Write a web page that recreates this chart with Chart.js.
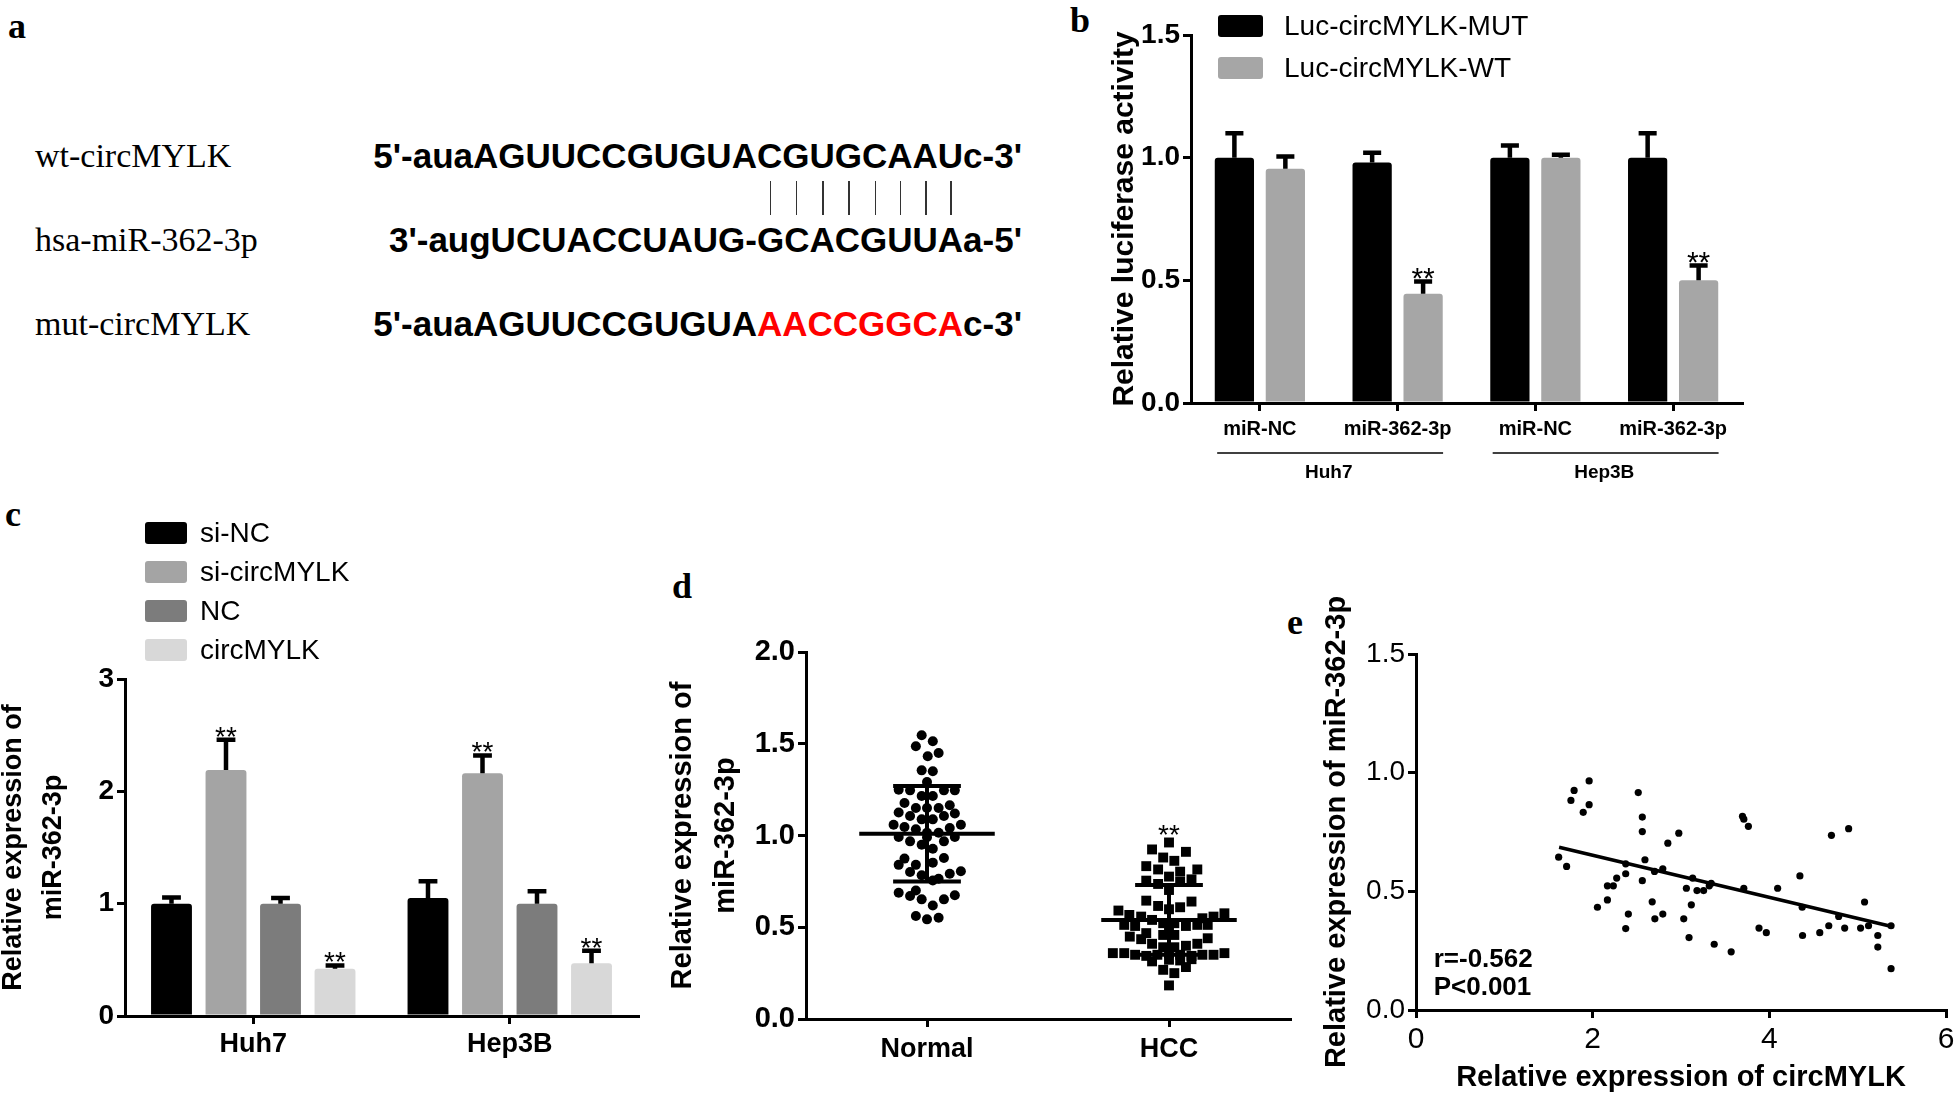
<!DOCTYPE html>
<html lang="en">
<head>
<meta charset="UTF-8">
<title>circMYLK / miR-362-3p</title>
<script src="https://cdn.jsdelivr.net/npm/chart.js"></script>
<style>
  html, body { margin: 0; padding: 0; background: #fff; }
  body { position: relative; width: 1960px; height: 1098px; overflow: hidden; color: #000;
         font-family: 'Liberation Sans', Arial, sans-serif; }
  canvas { position: absolute; }
  .tag { position: absolute; font: bold 36px 'Liberation Serif', 'Times New Roman', serif; line-height: 40px; }
  .name { position: absolute; left: 35px; font: 34px 'Liberation Serif', 'Times New Roman', serif; line-height: 40px; white-space: nowrap; }
  .seq { position: absolute; right: 938px; font: bold 35px 'Liberation Sans', Arial, sans-serif; line-height: 40px; white-space: nowrap; }
  .seq .red { color: #ff0000; }
  .pairline { position: absolute; width: 1.5px; background: #333; }
  .lg-box { position: absolute; border-radius: 3px; }
  .lg-text { position: absolute; font: 28px 'Liberation Sans', Arial, sans-serif; line-height: 32px; white-space: nowrap; }
</style>
</head>
<body>

<!-- panel letters -->
<div class="tag" style="left:8px;top:6px">a</div>
<div class="tag" style="left:1070px;top:0px">b</div>
<div class="tag" style="left:5px;top:494px">c</div>
<div class="tag" style="left:672px;top:566px">d</div>
<div class="tag" style="left:1287px;top:602px">e</div>

<!-- panel a: binding site -->
<div class="name" style="top:136px">wt-circMYLK</div>
<div class="name" style="top:220px">hsa-miR-362-3p</div>
<div class="name" style="top:304px">mut-circMYLK</div>
<div class="seq" id="seqWt" style="top:136px">5'-auaAGUUCCGUGUA<span class="pair">C</span><span class="pair">G</span><span class="pair">U</span><span class="pair">G</span><span class="pair">C</span><span class="pair">A</span><span class="pair">A</span><span class="pair">U</span>c-3'</div>
<div class="seq" style="top:220px">3'-augUCUACCUAUG-GCACGUUAa-5'</div>
<div class="seq" style="top:304px">5'-auaAGUUCCGUGUA<span class="red">AACCGGCA</span>c-3'</div>

<canvas id="chartB" width="685" height="500" style="left:1075px;top:0px"></canvas>
<canvas id="chartC" width="670" height="450" style="left:-12px;top:640px"></canvas>
<canvas id="chartD" width="660" height="538" style="left:640px;top:560px"></canvas>
<canvas id="chartE" width="670" height="508" style="left:1290px;top:590px"></canvas>

<script>
// ---- b: luciferase reporter ----
const bCats = ['miR-NC', 'miR-362-3p', 'miR-NC', 'miR-362-3p'];
const bGroups = ['Huh7', 'Hep3B'];
const bSeries = ['Luc-circMYLK-MUT', 'Luc-circMYLK-WT'];
const bMut = [1.00, 0.98, 1.00, 1.00];
const bMutErr = [0.10, 0.04, 0.05, 0.10];
const bWt = [0.955, 0.445, 1.00, 0.50];
const bWtErr = [0.05, 0.05, 0.012, 0.06];
const bWtSig = ['', '**', '', '**'];
const bTicks = [0, 0.5, 1.0, 1.5];

// ---- c: miR-362-3p after circMYLK knockdown / overexpression ----
const cCats = ['Huh7', 'Hep3B'];
const cSeries = ['si-NC', 'si-circMYLK', 'NC', 'circMYLK'];
const cSiNC = [1.00, 1.05];
const cSiNCErr = [0.055, 0.15];
const cSiCirc = [2.19, 2.16];
const cSiCircErr = [0.27, 0.16];
const cNC = [1.00, 1.00];
const cNCErr = [0.05, 0.11];
const cCirc = [0.42, 0.47];
const cCircErr = [0.03, 0.11];
const cSig = ['**', '**'];

// ---- d: tissue expression (value + horizontal jitter offset) ----
const dCats = ['Normal', 'HCC'];
const dMean = [1.01, 0.54];
const dSD = [0.26, 0.19];
const normalVals = [1.546, 1.514, 1.486, 1.432, 1.45, 1.355, 1.35, 1.292, 1.25, 1.246, 1.246, 1.246,
  1.215, 1.215, 1.177, 1.15, 1.15, 1.15, 1.165, 1.125, 1.106, 1.106, 1.12, 1.088, 1.088, 1.059,
  1.046, 1.034, 1.041, 1.059, 1.015, 1.015, 0.992, 0.968, 0.95, 0.968, 0.992, 0.928, 0.99, 0.874,
  0.877, 0.84, 0.852, 0.84, 0.801, 0.792, 0.805, 0.783, 0.755, 0.764, 0.688, 0.67, 0.70, 0.652,
  0.619, 0.652, 0.674, 0.561, 0.543, 0.552];
const normalOffsets = [-0.022, 0.024, -0.046, 0.003, 0.048, -0.022, 0.024, 0, -0.117, -0.07, 0.07, 0.115,
  -0.022, 0.024, -0.093, -0.046, 0, 0.048, 0.094, -0.117, -0.07, 0.07, 0.115, -0.022, 0.024, -0.138,
  -0.093, -0.046, 0.094, 0.14, 0, 0.048, -0.117, -0.07, -0.022, 0.07, 0.115, 0.024, 0, -0.093,
  0.07, -0.046, 0.024, -0.117, -0.07, 0.094, 0.14, -0.022, 0.024, 0.048, -0.117, -0.07, -0.046, -0.022,
  0.024, 0.07, 0.115, -0.046, 0, 0.048];
const hccVals = [0.962, 0.924, 0.911, 0.88, 0.862, 0.833, 0.815, 0.803, 0.815, 0.776, 0.754, 0.736,
  0.748, 0.761, 0.703, 0.645, 0.64, 0.616, 0.609, 0.598, 0.591, 0.567, 0.558, 0.576, 0.558, 0.549,
  0.54, 0.513, 0.507, 0.522, 0.522, 0.507, 0.513, 0.513, 0.486, 0.468, 0.458, 0.458, 0.449, 0.435,
  0.44, 0.41, 0.391, 0.391, 0.399, 0.41, 0.359, 0.359, 0.35, 0.344, 0.35, 0.359, 0.35, 0.344,
  0.35, 0.35, 0.359, 0.314, 0.323, 0.319, 0.326, 0.268, 0.283, 0.25, 0.183];
const hccOffsets = [0, -0.07, 0.07, -0.024, 0.022, -0.094, -0.045, 0.046, 0.117, 0, -0.094, -0.045,
  0.046, 0.093, 0, -0.094, 0.093, -0.045, 0.046, 0, -0.209, -0.164, -0.115, 0.229, 0.184, 0.138,
  -0.07, -0.185, -0.14, -0.024, 0.022, 0.07, 0.117, 0.16, 0, -0.094, -0.024, 0.022, -0.162, -0.115,
  0.16, -0.07, -0.024, 0.022, 0.07, 0.117, -0.232, -0.185, -0.14, -0.094, -0.048, 0, 0.046, 0.093,
  0.138, 0.184, 0.229, -0.07, 0, 0.046, 0.093, -0.024, 0.07, 0.022, 0];

// ---- e: correlation ----
const eCirc = [1.615, 1.705, 1.754, 1.79, 1.893, 1.96, 1.96, 2.054, 2.167, 2.167, 2.234, 2.272,
  2.374, 2.374, 2.374, 2.404, 2.516, 2.562, 2.562, 2.562, 2.592, 2.674, 2.70, 2.704, 2.794, 2.794,
  2.851, 2.975, 3.031, 3.061, 3.091, 3.117, 3.132, 3.181, 3.256, 3.32, 3.342, 3.376, 3.568, 3.696,
  3.711, 3.763, 3.711, 3.883, 3.966, 4.094, 4.346, 4.372, 4.376, 4.571, 4.673, 4.703, 4.785, 4.853,
  4.898, 5.033, 5.078, 5.123, 5.228, 5.228, 5.378, 5.378];
const eMir = [0.644, 0.605, 0.883, 0.925, 0.833, 0.965, 0.865, 0.433, 0.464, 0.523, 0.523, 0.556,
  0.616, 0.574, 0.343, 0.404, 0.916, 0.813, 0.752, 0.545, 0.633, 0.456, 0.584, 0.384, 0.595, 0.404,
  0.703, 0.745, 0.384, 0.513, 0.305, 0.443, 0.556, 0.503, 0.503, 0.523, 0.534, 0.277, 0.245, 0.816,
  0.804, 0.774, 0.513, 0.345, 0.326, 0.513, 0.565, 0.433, 0.314, 0.326, 0.355, 0.736, 0.394, 0.345,
  0.764, 0.345, 0.455, 0.355, 0.314, 0.265, 0.355, 0.174];
const eFitX = [1.62, 5.35];
const eFitY = [0.686, 0.355];
const eStats = ['r=-0.562', 'P<0.001'];

Chart.defaults.font.family = "'Liberation Sans', Arial, Helvetica, sans-serif";
Chart.defaults.color = '#000';

// one-sided error bars with a cap, plus significance stars
const errorBars = {
  id: 'errorBars',
  afterDatasetsDraw(chart, args, opts) {
    const ctx = chart.ctx;
    const ys = chart.scales.y;
    chart.data.datasets.forEach((ds, i) => {
      if (!ds.errors) return;
      chart.getDatasetMeta(i).data.forEach((bar, j) => {
        const top = ys.getPixelForValue(ds.data[j] + ds.errors[j]);
        const half = bar.width * 0.23;
        ctx.save();
        ctx.strokeStyle = '#000';
        ctx.lineWidth = 4.5;
        ctx.beginPath();
        ctx.moveTo(bar.x, bar.y);
        ctx.lineTo(bar.x, top);
        ctx.moveTo(bar.x - half, top);
        ctx.lineTo(bar.x + half, top);
        ctx.stroke();
        if (ds.stars && ds.stars[j]) {
          ctx.fillStyle = '#000';
          ctx.font = opts.starFont;
          ctx.textAlign = 'center';
          ctx.textBaseline = 'alphabetic';
          ctx.fillText(ds.stars[j], bar.x, top + opts.starDy);
        }
        ctx.restore();
      });
    });
  }
};

// group brackets under the x axis (panel b)
const groupLabels = {
  id: 'groupLabels',
  afterDraw(chart, args, opts) {
    if (!opts.names) return;
    const ctx = chart.ctx;
    const xs = chart.scales.x;
    const step = xs.getPixelForValue(1) - xs.getPixelForValue(0);
    const base = chart.chartArea.bottom;
    opts.names.forEach((name, g) => {
      const x0 = xs.getPixelForValue(g * opts.size);
      const x1 = xs.getPixelForValue(g * opts.size + opts.size - 1);
      ctx.save();
      ctx.strokeStyle = '#000';
      ctx.lineWidth = 1.5;
      ctx.beginPath();
      ctx.moveTo(x0 - step * 0.31, base + opts.lineOffset);
      ctx.lineTo(x1 + step * 0.33, base + opts.lineOffset);
      ctx.stroke();
      ctx.fillStyle = '#000';
      ctx.font = opts.font;
      ctx.textAlign = 'center';
      ctx.textBaseline = 'middle';
      ctx.fillText(name, (x0 + x1) / 2, base + opts.textOffset);
      ctx.restore();
    });
  }
};

// free text placed at data coordinates
const textMarks = {
  id: 'textMarks',
  afterDraw(chart, args, opts) {
    if (!opts.items) return;
    const ctx = chart.ctx;
    opts.items.forEach(m => {
      ctx.save();
      ctx.fillStyle = '#000';
      ctx.font = m.font;
      ctx.textAlign = m.align || 'center';
      ctx.textBaseline = m.baseline || 'middle';
      ctx.fillText(m.text, chart.scales.x.getPixelForValue(m.x), chart.scales.y.getPixelForValue(m.y) + (m.dy || 0));
      ctx.restore();
    });
  }
};

Chart.register(errorBars, groupLabels, textMarks);

function axisStyle(extra) {
  return Object.assign({
    grid: { display: true, drawOnChartArea: false, drawTicks: true, tickLength: 8, color: '#000', lineWidth: 3, offset: false },
    border: { display: true, color: '#000', width: 3 }
  }, extra);
}

function makeLegend(x, y, boxW, boxH, step, textX, labels, colors) {
  labels.forEach((label, i) => {
    const box = document.createElement('div');
    box.className = 'lg-box';
    box.style.cssText = `left:${x}px;top:${y + i * step}px;width:${boxW}px;height:${boxH}px;background:${colors[i]}`;
    document.body.appendChild(box);
    const txt = document.createElement('div');
    txt.className = 'lg-text';
    txt.textContent = label;
    txt.style.cssText = `left:${textX}px;top:${y + i * step + boxH / 2 - 16}px`;
    document.body.appendChild(txt);
  });
}

// ---------- b ----------
const bColors = ['#000000', '#a6a6a6'];
new Chart(document.getElementById('chartB'), {
  type: 'bar',
  data: {
    labels: bCats,
    datasets: [
      { label: bSeries[0], data: bMut, errors: bMutErr, backgroundColor: bColors[0], borderRadius: 3,
        categoryPercentage: 0.74, barPercentage: 0.77 },
      { label: bSeries[1], data: bWt, errors: bWtErr, stars: bWtSig, backgroundColor: bColors[1], borderRadius: 3,
        categoryPercentage: 0.74, barPercentage: 0.77 }
    ]
  },
  options: {
    responsive: false, animation: false, devicePixelRatio: 1,
    layout: { padding: { left: 0, top: 35, right: 18, bottom: 0 } },
    plugins: {
      legend: { display: false }, tooltip: { enabled: false },
      errorBars: { starFont: "30px 'Liberation Sans', Arial", starDy: 6 },
      groupLabels: { names: bGroups, size: 2, lineOffset: 50, textOffset: 70, font: "bold 19px 'Liberation Sans', Arial" }
    },
    scales: {
      x: axisStyle({
        offset: true,
        ticks: { font: { size: 20, weight: 'bold' }, padding: 6, maxRotation: 0, autoSkip: false },
        afterFit: s => { s.height = 97; }
      }),
      y: axisStyle({
        min: 0, max: 1.5,
        afterBuildTicks: s => { s.ticks = bTicks.map(v => ({ value: v })); },
        ticks: { font: { size: 28, weight: 'bold' }, padding: 3, callback: v => v.toFixed(1) },
        title: { display: true, text: 'Relative luciferase activity', font: { size: 30, weight: 'bold' }, padding: { top: 32 } },
        afterFit: s => { s.width = 116; }
      })
    }
  }
});
makeLegend(1218, 15, 45, 22, 42, 1284, bSeries, bColors);

// ---------- c ----------
const cColors = ['#000000', '#a4a4a4', '#7c7c7c', '#d8d8d8'];
const cBar = { borderRadius: 3, categoryPercentage: 0.85, barPercentage: 0.75 };
new Chart(document.getElementById('chartC'), {
  type: 'bar',
  data: {
    labels: cCats,
    datasets: [
      Object.assign({ label: cSeries[0], data: cSiNC, errors: cSiNCErr, backgroundColor: cColors[0] }, cBar),
      Object.assign({ label: cSeries[1], data: cSiCirc, errors: cSiCircErr, stars: cSig, backgroundColor: cColors[1] }, cBar),
      Object.assign({ label: cSeries[2], data: cNC, errors: cNCErr, backgroundColor: cColors[2] }, cBar),
      Object.assign({ label: cSeries[3], data: cCirc, errors: cCircErr, stars: cSig, backgroundColor: cColors[3] }, cBar)
    ]
  },
  options: {
    responsive: false, animation: false, devicePixelRatio: 1,
    layout: { padding: { left: 0, top: 39, right: 20, bottom: 0 } },
    plugins: {
      legend: { display: false }, tooltip: { enabled: false },
      errorBars: { starFont: "28px 'Liberation Sans', Arial", starDy: 6 }
    },
    scales: {
      x: axisStyle({
        offset: true,
        ticks: { font: { size: 27, weight: 'bold' }, padding: 4, maxRotation: 0 },
        afterFit: s => { s.height = 74; }
      }),
      y: axisStyle({
        min: 0, max: 3,
        ticks: { stepSize: 1, font: { size: 28, weight: 'bold' }, padding: 3 },
        title: { display: true, text: ['Relative expression of', 'miR-362-3p'],
                 font: { size: 27, weight: 'bold', lineHeight: 1.48 }, padding: { top: 6 } },
        afterFit: s => { s.width = 137; }
      })
    }
  }
});
makeLegend(145, 522, 42, 22, 39, 200, cSeries, cColors);

// ---------- d ----------
function statLines(cx, mean, sd) {
  const line = pts => ({ data: pts, type: 'scatter', showLine: true, borderColor: '#000', borderWidth: 4, pointRadius: 0 });
  return [
    line([{ x: cx - 0.28, y: mean }, { x: cx + 0.28, y: mean }]),
    line([{ x: cx - 0.14, y: mean + sd }, { x: cx + 0.14, y: mean + sd }]),
    line([{ x: cx - 0.14, y: mean - sd }, { x: cx + 0.14, y: mean - sd }]),
    line([{ x: cx, y: mean - sd }, { x: cx, y: mean + sd }])
  ];
}
new Chart(document.getElementById('chartD'), {
  type: 'scatter',
  data: {
    datasets: [
      ...statLines(1, dMean[0], dSD[0]),
      ...statLines(2, dMean[1], dSD[1]),
      { label: dCats[0], data: normalVals.map((v, i) => ({ x: 1 + normalOffsets[i], y: v })),
        pointStyle: 'circle', pointRadius: 5, backgroundColor: '#000', borderColor: '#000', borderWidth: 0 },
      { label: dCats[1], data: hccVals.map((v, i) => ({ x: 2 + hccOffsets[i], y: v })),
        pointStyle: 'rect', pointRadius: 7, backgroundColor: '#000', borderColor: '#000', borderWidth: 0 }
    ]
  },
  options: {
    responsive: false, animation: false, devicePixelRatio: 1,
    layout: { padding: { left: 0, top: 92, right: 10, bottom: 0 } },
    plugins: {
      legend: { display: false }, tooltip: { enabled: false },
      textMarks: { items: [{ x: 2, y: 1.04, text: '**', font: "28px 'Liberation Sans', Arial", baseline: 'alphabetic', dy: 16 }] }
    },
    scales: {
      x: axisStyle({
        type: 'linear', min: 0.5, max: 2.5,
        afterBuildTicks: s => { s.ticks = [{ value: 1 }, { value: 2 }]; },
        ticks: { font: { size: 27, weight: 'bold' }, padding: 6, callback: v => dCats[v - 1] },
        afterFit: s => { s.height = 79; }
      }),
      y: axisStyle({
        min: 0, max: 2,
        ticks: { stepSize: 0.5, font: { size: 29, weight: 'bold' }, padding: 3, callback: v => v.toFixed(1) },
        title: { display: true, text: ['Relative expression of', 'miR-362-3p'],
                 font: { size: 29, weight: 'bold', lineHeight: 1.48 }, padding: { top: 22 } },
        afterFit: s => { s.width = 166; }
      })
    }
  }
});

// ---------- e ----------
new Chart(document.getElementById('chartE'), {
  type: 'scatter',
  data: {
    datasets: [
      { data: eFitX.map((x, i) => ({ x, y: eFitY[i] })), showLine: true, borderColor: '#000', borderWidth: 3.5, pointRadius: 0 },
      { data: eCirc.map((x, i) => ({ x, y: eMir[i] })), pointRadius: 3.6, backgroundColor: '#000', borderWidth: 0 }
    ]
  },
  options: {
    responsive: false, animation: false, devicePixelRatio: 1,
    layout: { padding: { left: 0, top: 64, right: 14, bottom: 0 } },
    plugins: {
      legend: { display: false }, tooltip: { enabled: false },
      textMarks: { items: [
        { x: 0.2, y: 0.211, text: eStats[0], font: "bold 26px 'Liberation Sans', Arial", align: 'left' },
        { x: 0.2, y: 0.093, text: eStats[1], font: "bold 26px 'Liberation Sans', Arial", align: 'left' }
      ] }
    },
    scales: {
      x: axisStyle({
        type: 'linear', min: 0, max: 6,
        ticks: { stepSize: 2, font: { size: 30 }, padding: 4 },
        title: { display: true, text: 'Relative expression of circMYLK', font: { size: 29, weight: 'bold' }, padding: { bottom: 3 } },
        afterFit: s => { s.height = 88; }
      }),
      y: axisStyle({
        min: 0, max: 1.5,
        ticks: { stepSize: 0.5, font: { size: 28 }, padding: 3, callback: v => v.toFixed(1) },
        title: { display: true, text: 'Relative expression of miR-362-3p', font: { size: 29, weight: 'bold' }, padding: { top: 30 } },
        afterFit: s => { s.width = 126; }
      })
    }
  }
});

// complementarity ticks under the paired bases of wt-circMYLK
document.querySelectorAll('#seqWt .pair').forEach(sp => {
  const r = sp.getBoundingClientRect();
  const ln = document.createElement('div');
  ln.className = 'pairline';
  ln.style.cssText = `left:${(r.left + r.right) / 2}px;top:181px;height:34px`;
  document.body.appendChild(ln);
});
</script>
</body>
</html>
